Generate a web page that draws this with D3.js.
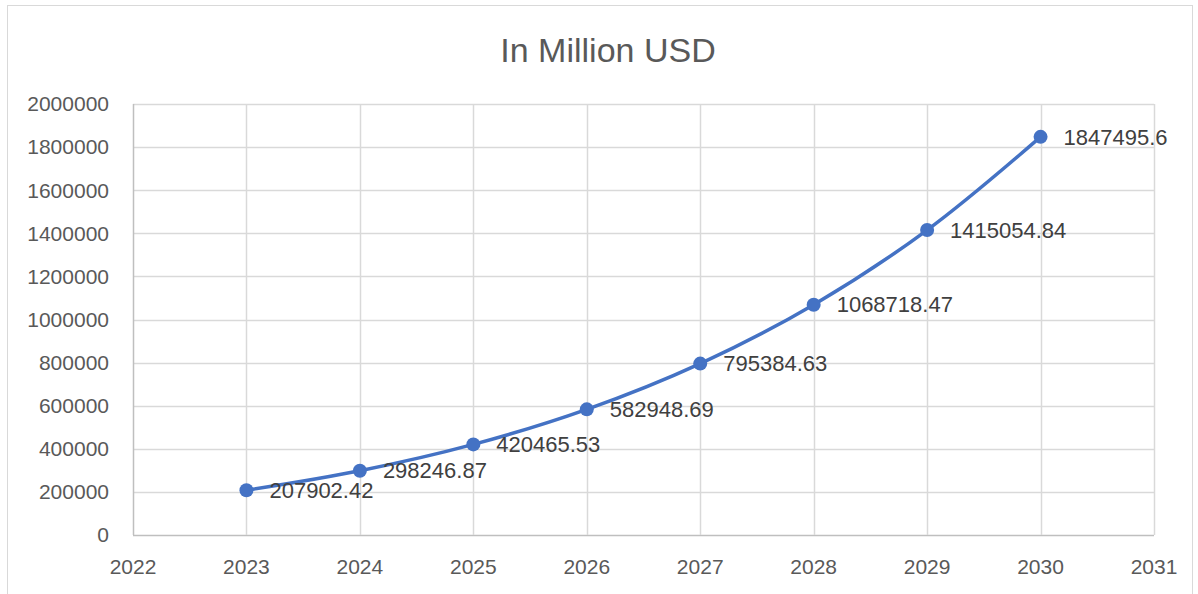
<!DOCTYPE html>
<html>
<head>
<meta charset="utf-8">
<script src="https://cdn.jsdelivr.net/npm/d3@7"></script>
<style>
  body { margin: 0; background: #fff; }
  svg { display: block; font-family: "Liberation Sans", Arial, sans-serif; }
</style>
</head>
<body>
<svg width="1198" height="594"></svg>
<script>
// chart data
var years = [2023, 2024, 2025, 2026, 2027, 2028, 2029, 2030]
var values = [207902.42, 298246.87, 420465.53, 582948.69, 795384.63, 1068718.47, 1415054.84, 1847495.6]
var labels = ["207902.42", "298246.87", "420465.53", "582948.69", "795384.63", "1068718.47", "1415054.84", "1847495.6"]
var xTicks = [2022, 2023, 2024, 2025, 2026, 2027, 2028, 2029, 2030, 2031]
var yTicks = [0, 200000, 400000, 600000, 800000, 1000000, 1200000, 1400000, 1600000, 1800000, 2000000]
var title = "In Million USD"

var svg = d3.select("svg")

var margin = { left: 133, top: 104, right: 1154, bottom: 535 }

// chart border
svg.append("rect")
  .attr("x", 7.5).attr("y", 5.5)
  .attr("width", 1185).attr("height", 600)
  .attr("fill", "none")
  .attr("stroke", "#d9d9d9")

var x = d3.scaleLinear()
  .domain([2022, 2031])
  .range([margin.left, margin.right])

var y = d3.scaleLinear()
  .domain([0, 2000000])
  .range([margin.bottom, margin.top])

// grid
svg.append("g")
  .selectAll("line")
  .data(yTicks)
  .join("line")
    .attr("x1", margin.left).attr("x2", margin.right)
    .attr("y1", function(d) { return Math.round(y(d)) + 0.5 })
    .attr("y2", function(d) { return Math.round(y(d)) + 0.5 })
    .attr("stroke", function(d) { return d === 0 ? "#bfbfbf" : "#d9d9d9" })
    .attr("stroke-width", 1.5)

svg.append("g")
  .selectAll("line")
  .data(xTicks)
  .join("line")
    .attr("x1", function(d) { return Math.round(x(d)) + 0.5 })
    .attr("x2", function(d) { return Math.round(x(d)) + 0.5 })
    .attr("y1", margin.top).attr("y2", margin.bottom)
    .attr("stroke", function(d) { return d === 2022 ? "#bfbfbf" : "#d9d9d9" })
    .attr("stroke-width", 1.5)

// axis labels
svg.append("g")
  .selectAll("text")
  .data(yTicks)
  .join("text")
    .attr("x", 109)
    .attr("y", function(d) { return y(d) })
    .attr("dy", "0.35em")
    .attr("text-anchor", "end")
    .attr("fill", "#595959")
    .style("font-size", "21px")
    .text(function(d) { return d })

svg.append("g")
  .selectAll("text")
  .data(xTicks)
  .join("text")
    .attr("x", function(d) { return x(d) })
    .attr("y", 574)
    .attr("text-anchor", "middle")
    .attr("fill", "#595959")
    .style("font-size", "21px")
    .text(function(d) { return d })

// title
svg.append("text")
  .attr("x", 608)
  .attr("y", 62)
  .attr("text-anchor", "middle")
  .attr("fill", "#595959")
  .style("font-size", "34px")
  .text(title)

// line
var line = d3.line()
  .x(function(d, i) { return x(years[i]) })
  .y(function(d) { return y(d) })
  .curve(d3.curveCatmullRom.alpha(0.5))

svg.append("path")
  .datum(values)
  .attr("d", line)
  .attr("fill", "none")
  .attr("stroke", "#4472c4")
  .attr("stroke-width", 3.5)
  .attr("stroke-linecap", "round")

svg.append("g")
  .selectAll("circle")
  .data(values)
  .join("circle")
    .attr("cx", function(d, i) { return x(years[i]) })
    .attr("cy", function(d) { return y(d) })
    .attr("r", 7)
    .attr("fill", "#4472c4")

// data labels
svg.append("g")
  .selectAll("text")
  .data(values)
  .join("text")
    .attr("x", function(d, i) { return x(years[i]) + 23 })
    .attr("y", function(d) { return y(d) })
    .attr("dy", "0.35em")
    .attr("fill", "#404040")
    .style("font-size", "22px")
    .text(function(d, i) { return labels[i] })
</script>
</body>
</html>
